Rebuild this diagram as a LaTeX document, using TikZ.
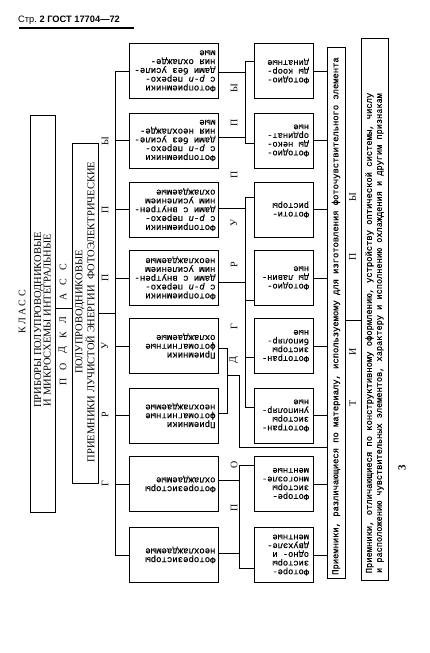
\documentclass[tikz,border=0pt]{standalone}
\usepackage{fontspec}
\usepackage{graphicx}
\setmainfont{Liberation Serif}
\newfontfamily\twfont[FakeBold=0.6]{Liberation Mono}
\newfontfamily\hdfont{Liberation Sans}
\newfontfamily\spcfont[LetterSpace=25]{Liberation Serif}
\newcommand{\gtx}[1]{\rotatebox{180}{\parbox{84pt}{\twfont\fontsize{9}{8.8}\selectfont\raggedright #1}}}
\newcommand{\stx}[1]{\rotatebox{180}{\parbox{51pt}{\twfont\fontsize{8.7}{8.7}\selectfont\raggedright #1}}}
\begin{document}
\begin{tikzpicture}[x=1pt,y=-1pt,
  frame/.style={draw, line width=0.9pt, inner sep=0pt},
  gbox/.style={frame, minimum width=89pt, minimum height=55pt},
  sbox/.style={frame, minimum width=59pt, minimum height=55pt},
  ln/.style={line width=0.8pt},
  lett/.style={font=\fontsize{10}{10}\selectfont, rotate=90, inner sep=0pt},
  captext/.style={font=\fontsize{10.5}{9.5}\selectfont, rotate=90, align=center, inner sep=0pt},
  typ/.style={font=\twfont\fontsize{8.8}{10}\selectfont, rotate=90, inner sep=0pt}]
\useasboundingbox (0,0) rectangle (429,653);

% header
\node[anchor=base west, inner sep=0pt, font=\hdfont\fontsize{9.3}{9.3}\selectfont] (hdr) at (18,23) {Стр.\ \textbf{2 ГОСТ 17704—72}};
\coordinate (ul1) at (19,28);
\coordinate (ul2) at (134,28);
\draw[line width=1.1pt] (ul1) -- (ul2);

% class
\node[font=\spcfont\fontsize{10}{10}\selectfont, rotate=90, inner sep=0pt] (kl) at (22,312) {КЛАСС};
\node[frame, minimum width=25pt, minimum height=397pt] (b1) at (42.5,313.5) {};
\node[captext] (b1t) at (42.5,320) {ПРИБОРЫ ПОЛУПРОВОДНИКОВЫЕ\\И МИКРОСХЕМЫ ИНТЕГРАЛЬНЫЕ};

% subclass
\foreach \ch/\yy in {П/382,О/367,Д/350,К/335,Л/320,А/297,С/282,С/267}
  \node[lett] (pk\yy) at (63,\yy) {\ch};
\node[frame, minimum width=26pt, minimum height=340pt] (b2) at (85,313) {};
\node[captext] (b2t) at (85,312) {ПОЛУПРОВОДНИКОВЫЕ\\ПРИЕМНИКИ ЛУЧИСТОЙ ЭНЕРГИИ \ ФОТОЭЛЕКТРИЧЕСКИЕ};

% groups label
\foreach \ch/\yy in {Ы/141,П/210,П/278,У/346,Р/415,Г/484}
  \node[lett] (gr\yy) at (105,\yy) {\ch};

% group boxes
\node[gbox] (g1) at (173.5,71) {\gtx{Фотоприемники\\с \textit{p-n} перехо-\\дами без усиле-\\ния охлажде-\\мые}};
\node[gbox] (g2) at (173.5,140.5) {\gtx{Фотоприемники\\с \textit{p-n} перехо-\\дами без усиле-\\ния неохлажде-\\мые}};
\node[gbox] (g3) at (173.5,209.5) {\gtx{Фотоприемники\\с \textit{p-n} перехо-\\дами с внутрен-\\ним усилением\\охлаждаемые}};
\node[gbox] (g4) at (173.5,278) {\gtx{Фотоприемники\\с \textit{p-n} перехо-\\дами с внутрен-\\ним усилением\\неохлаждаемые}};
\node[gbox] (g5) at (173.5,346) {\gtx{Приемники\\фотомагнитные\\охлаждаемые}};
\node[gbox] (g6) at (173.5,415.5) {\gtx{Приемники\\фотомагнитные\\неохлаждаемые}};
\node[gbox] (g7) at (173.5,484) {\gtx{Фоторезисторы\\охлаждаемые}};
\node[gbox] (g8) at (173.5,555) {\gtx{Фоторезисторы\\неохлаждаемые}};

% subgroups label
\foreach \ch/\yy in {П/508,О/465,Д/360,Г/327,Р/265,У/223,П/175,П/123,Ы/88}
  \node[lett] (pg\yy) at (234,\yy) {\ch};

% subgroup boxes
\node[sbox] (s1) at (283.5,71) {\stx{Фотодио-\\ды коор-\\динатные}};
\node[sbox] (s2) at (283.5,140.5) {\stx{Фотодио-\\ды неко-\\ординат-\\ные}};
\node[sbox] (s3) at (283.5,209.5) {\stx{Фототи-\\ристоры}};
\node[sbox] (s4) at (283.5,278) {\stx{Фотодио-\\ды лавин-\\ные}};
\node[sbox] (s5) at (283.5,346) {\stx{Фототран-\\зисторы\\биполяр-\\ные}};
\node[sbox] (s6) at (283.5,415.5) {\stx{Фототран-\\зисторы\\униполяр-\\ные}};
\node[sbox] (s7) at (283.5,484) {\stx{Фоторе-\\зисторы\\многоэле-\\ментные}};
\node[sbox] (s8) at (283.5,555) {\stx{Фоторе-\\зисторы\\одно- и\\двухэле-\\ментные}};

% material types
\node[frame, minimum width=18pt, minimum height=531pt] (A) at (336,312.5) {};
\node[typ] (At) at (336,316) {Приемники, различающиеся по материалу, используемому для изготовления фоточувствительного элемента};
\foreach \ch/\yy in {Т/403,И/352,П/257,Ы/197}
  \node[lett] (tp\yy) at (352.5,\yy) {\ch};
\node[frame, minimum width=27pt, minimum height=542pt] (B) at (374.5,309) {};
\node[typ, align=center] (Bt) at (374.5,333) {Приемники, отличающиеся по конструктивному оформлению, устройству оптической системы, числу\\{\fontsize{8.6}{10}\selectfont и расположению чувствительных элементов, характеру и исполнению охлаждения и другим признакам}};

\node[font=\bfseries\fontsize{11}{11}\selectfont, rotate=90, inner sep=0pt] (mk) at (402,468) {3};

% connectors
\draw[ln] (b1.east |- 0,308) -- (b2.west |- 0,308);
\coordinate (gbt) at (115,71);
\coordinate (gbb) at (115,555);
\draw[ln] (gbt) -- (gbb);
\draw[ln] (b2.east |- 0,313) -- (gbt |- 0,313);
\foreach \i in {1,...,8} \draw[ln] (g\i.west -| gbt) -- (g\i.west);

\coordinate (p1t) at (245,61);
\coordinate (p1b) at (245,143);
\draw[ln] (p1t) -- (p1b);
\draw[ln] (g1.east |- 0,72) -- (p1t |- 0,72);
\draw[ln] (g2.east |- 0,137) -- (p1t |- 0,137);
\draw[ln] (p1t) -- (s1.west |- p1t);
\draw[ln] (p1b) -- (s2.west |- p1b);

\coordinate (p2t) at (245,197);
\coordinate (p2b) at (245,407);
\draw[ln] (p2t) -- (p2b);
\draw[ln] (g3.east |- 0,208) -- (p2t |- 0,208);
\draw[ln] (g4.east |- 0,282) -- (p2t |- 0,282);
\draw[ln] (p2t) -- (s3.west |- p2t);
\draw[ln] (p2t |- 0,300) -- (s4.west |- 0,300);
\draw[ln] (p2t |- 0,357) -- (s5.west |- 0,357);
\draw[ln] (p2b) -- (s6.west |- p2b);

\coordinate (pmt) at (227,348);
\coordinate (pmb) at (227,413);
\coordinate (pmk) at (239,375);
\coordinate (pml) at (239,447);
\draw[ln] (g5.east |- pmt) -- (pmt) -- (pmb) -- (g6.east |- pmb);
\draw[ln] (pmt |- pmk) -- (pmk) -- (pml) -- (A.west |- pml);

\coordinate (p3t) at (239,465);
\coordinate (p3b) at (239,568);
\draw[ln] (p3t) -- (p3b);
\draw[ln] (g7.east |- 0,480) -- (p3t |- 0,480);
\draw[ln] (g8.east |- 0,553) -- (p3t |- 0,553);
\draw[ln] (p3t) -- (s7.west |- p3t);
\draw[ln] (p3b) -- (s8.west |- p3b);

\foreach \i in {1,...,8} \draw[ln] (s\i.east) -- (s\i.east -| A.west);
\draw[ln] (A.east |- 0,320) -- (B.west |- 0,320);
\end{tikzpicture}
\end{document}
